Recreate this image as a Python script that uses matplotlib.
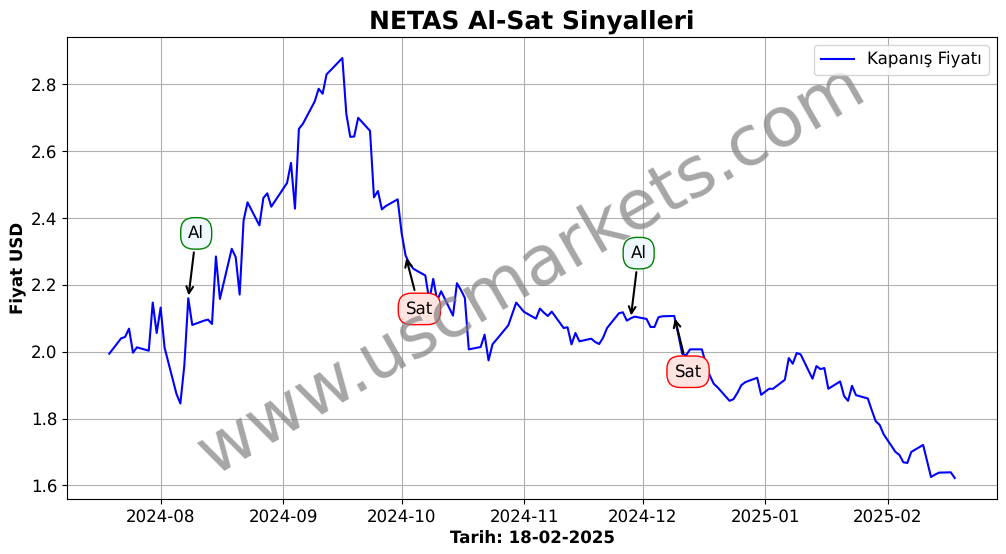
import matplotlib
matplotlib.use("Agg")
import matplotlib.pyplot as plt
import matplotlib.dates as mdates
import pandas as pd

plt.rcParams["text.hinting"] = "no_hinting"

DATES = """2024-07-19 2024-07-22 2024-07-23 2024-07-24 2024-07-25 2024-07-26 2024-07-29 2024-07-30 2024-07-31
2024-08-01 2024-08-02 2024-08-05 2024-08-06 2024-08-07 2024-08-08 2024-08-09 2024-08-12 2024-08-13 2024-08-14 2024-08-15 2024-08-16
2024-08-19 2024-08-20 2024-08-21 2024-08-22 2024-08-23 2024-08-26 2024-08-27 2024-08-28 2024-08-29
2024-09-02 2024-09-03 2024-09-04 2024-09-05 2024-09-06 2024-09-09 2024-09-10 2024-09-11 2024-09-12 2024-09-13
2024-09-16 2024-09-17 2024-09-18 2024-09-19 2024-09-20 2024-09-23 2024-09-24 2024-09-25 2024-09-26 2024-09-27 2024-09-30
2024-10-01 2024-10-02 2024-10-03 2024-10-04 2024-10-07 2024-10-08 2024-10-09 2024-10-10 2024-10-11 2024-10-14 2024-10-15 2024-10-16 2024-10-17 2024-10-18
2024-10-21 2024-10-22 2024-10-23 2024-10-24 2024-10-25 2024-10-28 2024-10-30 2024-10-31
2024-11-01 2024-11-04 2024-11-05 2024-11-06 2024-11-07 2024-11-08 2024-11-11 2024-11-12 2024-11-13 2024-11-14 2024-11-15
2024-11-18 2024-11-19 2024-11-20 2024-11-21 2024-11-22 2024-11-25 2024-11-26 2024-11-27 2024-11-28 2024-11-29
2024-12-02 2024-12-03 2024-12-04 2024-12-05 2024-12-06 2024-12-09 2024-12-10 2024-12-11 2024-12-12 2024-12-13
2024-12-16 2024-12-17 2024-12-18 2024-12-19 2024-12-20 2024-12-23 2024-12-24 2024-12-25 2024-12-26 2024-12-27 2024-12-30 2024-12-31
2025-01-02 2025-01-03 2025-01-06 2025-01-07 2025-01-08 2025-01-09 2025-01-10 2025-01-13 2025-01-14 2025-01-15 2025-01-16 2025-01-17
2025-01-20 2025-01-21 2025-01-22 2025-01-23 2025-01-24 2025-01-27 2025-01-28 2025-01-29 2025-01-30 2025-01-31
2025-02-03 2025-02-04 2025-02-05 2025-02-06 2025-02-07 2025-02-10 2025-02-11 2025-02-12 2025-02-13 2025-02-14 2025-02-17 2025-02-18""".split()

PRICES = [1.994, 2.040, 2.044, 2.069, 1.997, 2.013, 2.003, 2.147, 2.056,
          2.132, 2.012, 1.874, 1.845, 1.959, 2.160, 2.080, 2.093, 2.096, 2.083, 2.285, 2.158,
          2.308, 2.283, 2.171, 2.393, 2.447, 2.378, 2.460, 2.474, 2.434,
          2.505, 2.565, 2.428, 2.667, 2.682, 2.749, 2.787, 2.772, 2.830, 2.842,
          2.879, 2.712, 2.643, 2.644, 2.700, 2.661, 2.462, 2.481, 2.426, 2.436, 2.456,
          2.355, 2.288, 2.263, 2.248, 2.228, 2.153, 2.218, 2.153, 2.181, 2.108, 2.205, 2.185, 2.161, 2.007,
          2.014, 2.051, 1.974, 2.022, 2.036, 2.079, 2.147, 2.133,
          2.119, 2.099, 2.129, 2.117, 2.107, 2.120, 2.071, 2.073, 2.022, 2.056, 2.031,
          2.039, 2.029, 2.023, 2.042, 2.071, 2.115, 2.118, 2.093, 2.100, 2.105,
          2.098, 2.074, 2.074, 2.103, 2.106, 2.107, 2.054, 1.994, 1.989, 2.007,
          2.007, 1.964, 1.929, 1.904, 1.893, 1.853, 1.858, 1.877, 1.900, 1.909, 1.922, 1.871,
          1.889, 1.889, 1.916, 1.981, 1.964, 1.996, 1.992, 1.919, 1.957, 1.948, 1.951, 1.889,
          1.911, 1.867, 1.853, 1.898, 1.870, 1.860, 1.825, 1.792, 1.781, 1.753,
          1.700, 1.691, 1.669, 1.667, 1.700, 1.721, 1.673, 1.625, 1.632, 1.638, 1.639, 1.622]

SIGNAL_LABELS = ["Al", "Sat", "Al", "Sat"]
SIGNAL_DATES = ["2024-08-08", "2024-10-02", "2024-11-28", "2024-12-09"]
SIGNAL_PRICES = [2.160, 2.288, 2.100, 2.107]
SIGNAL_TEXT_DATES = ["2024-08-10", "2024-10-05 12:00", "2024-11-30", "2024-12-12 12:00"]
SIGNAL_TEXT_PRICES = [2.354, 2.128, 2.295, 1.940]

dates = pd.to_datetime(DATES)

fig = plt.figure(figsize=(10.06, 5.54), dpi=100)
ax = fig.add_axes([67 / 1006, 1 - 499 / 554, 930 / 1006, 462 / 554])

ax.plot(dates, PRICES, color="blue", lw=1.5, label="Kapanış Fiyatı")

for lab, d, p, td, tp in zip(SIGNAL_LABELS, SIGNAL_DATES, SIGNAL_PRICES,
                             SIGNAL_TEXT_DATES, SIGNAL_TEXT_PRICES):
    buy = lab == "Al"
    ax.annotate(lab, xy=(pd.Timestamp(d), p), xytext=(pd.Timestamp(td), tp),
                fontsize=12, ha="center", va="center",
                arrowprops=dict(arrowstyle="->", color="black", lw=1.5),
                bbox=dict(boxstyle="round,pad=0.45,rounding_size=0.8",
                          fc="aliceblue" if buy else "mistyrose",
                          ec="green" if buy else "red", lw=1))

ax.text(0.499, 0.495, "www.uscmarkets.com", transform=ax.transAxes, fontsize=50,
        color="gray", alpha=0.7, rotation=30, ha="center", va="center")

ax.set_title("NETAS Al-Sat Sinyalleri", fontsize=18, fontweight="bold", pad=6)
ax.set_xlabel("Tarih: 18-02-2025", fontsize=12, fontweight="bold", labelpad=4)
ax.set_ylabel("Fiyat USD", fontsize=12, fontweight="bold", labelpad=3)
ax.xaxis.set_major_locator(mdates.MonthLocator())
ax.xaxis.set_major_formatter(mdates.DateFormatter("%Y-%m"))
ax.tick_params(labelsize=12)
ax.grid(True)
ax.legend(loc="upper right", fontsize=12)

fig.savefig("out.png", dpi=100)
